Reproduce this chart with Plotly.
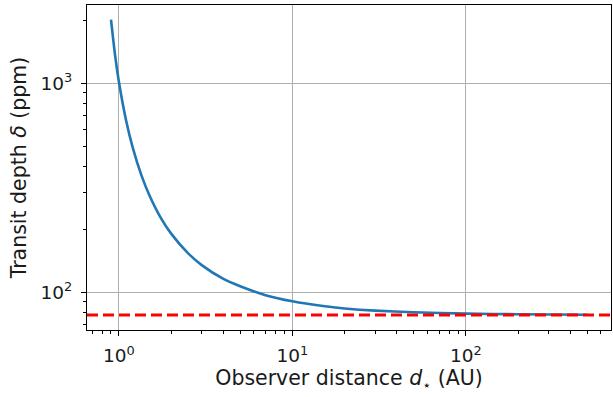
import plotly.graph_objects as go

# Observer distance (AU) and transit depth (ppm) along the curve
distance_au = [0.9, 0.95, 1.0, 1.1, 1.2, 1.35, 1.5, 1.75, 2.0, 2.5, 3.0, 4.0, 5.0,
               7.0, 10.0, 15.0, 20.0, 30.0, 50.0, 100.0, 200.0, 500.0]
depth_ppm = [2020, 1366, 1016, 664, 494, 362, 291, 226, 191, 154, 135, 116, 107,
             97, 90.6, 86, 83.8, 81.8, 80.3, 79.1, 78.6, 78.2]

# Asymptotic depth for a distant observer
depth_inf_ppm = 78

x_tickvals = [1, 10, 100]
x_ticktext = ["10<sup>0</sup>", "10<sup>1</sup>", "10<sup>2</sup>"]
y_tickvals = [100, 1000]
y_ticktext = ["10<sup>2</sup>", "10<sup>3</sup>"]

TEXT = "#1a1a1a"

fig = go.Figure()
fig.add_trace(go.Scatter(
    x=distance_au, y=depth_ppm, mode="lines",
    line=dict(color="#1f77b4", width=2.6, shape="spline", smoothing=0.6),
    showlegend=False,
))
fig.add_shape(type="line", xref="paper", x0=0, x1=1, yref="y",
              y0=depth_inf_ppm, y1=depth_inf_ppm,
              line=dict(color="red", width=3, dash="11px,5px"))

axis_common = dict(
    type="log", showline=True, mirror=True, linecolor="black", linewidth=1.2,
    ticks="outside", ticklen=5, tickcolor="black", tickwidth=1,
    showgrid=True, gridcolor="#b0b0b0", gridwidth=1, zeroline=False,
    tickfont=dict(size=18.5, color=TEXT),
    minor=dict(ticks="outside", ticklen=3, tickcolor="black", dtick="D1", showgrid=False),
)

fig.update_xaxes(
    **axis_common, range=[-0.184, 2.836],
    tickvals=x_tickvals, ticktext=x_ticktext, ticklabelstandoff=4,
    title=dict(text="Observer distance <i>d</i><sub>⋆</sub> (AU)",
               font=dict(size=20.5, color=TEXT), standoff=4),
)
fig.update_yaxes(
    **axis_common, range=[1.82, 3.375],
    tickvals=y_tickvals, ticktext=y_ticktext, ticklabelstandoff=5,
    title=dict(text="Transit depth <i>δ</i> (ppm)",
               font=dict(size=20.5, color=TEXT), standoff=8),
)

fig.update_layout(
    width=613, height=397,
    margin=dict(l=87, r=2, t=5, b=67),
    paper_bgcolor="white", plot_bgcolor="white",
    font=dict(family="DejaVu Sans"),
)

fig.write_html("out.html")
